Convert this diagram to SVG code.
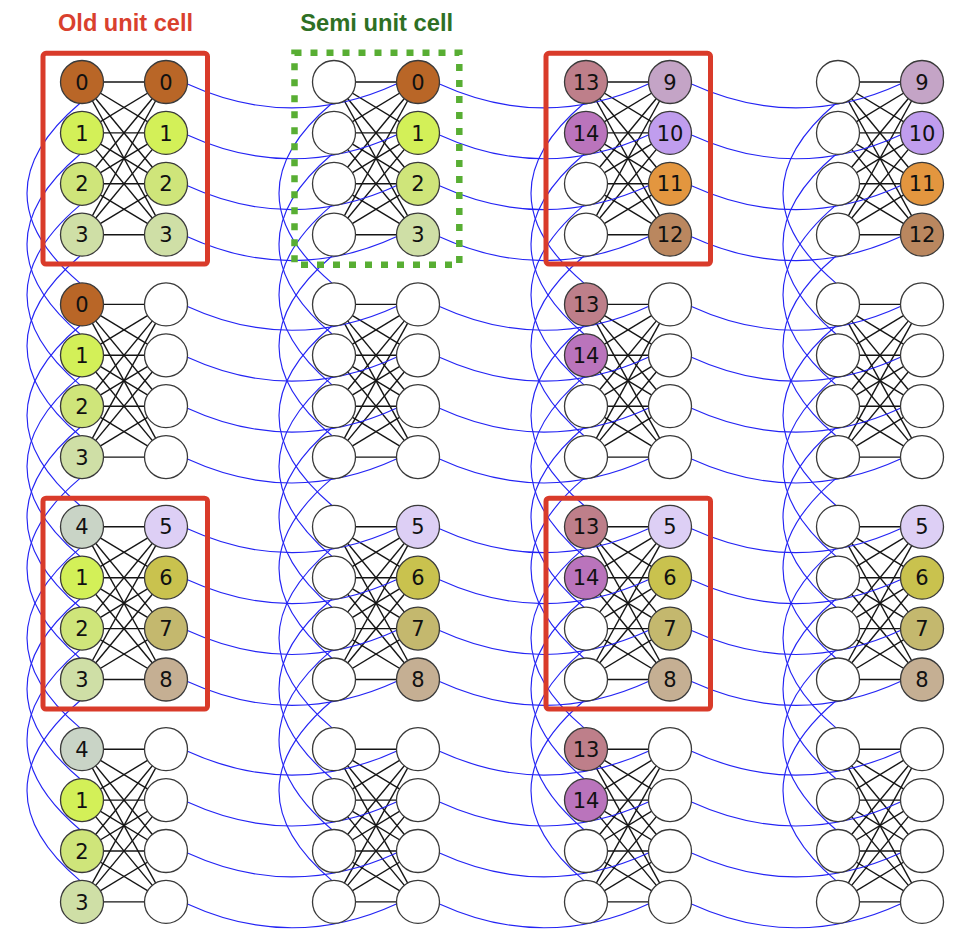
<svg xmlns="http://www.w3.org/2000/svg" xmlns:xlink="http://www.w3.org/1999/xlink" width="954" height="930" viewBox="0 0 954 930">
<style>
.k line{stroke:#151515;stroke-width:1.4}
.arc path{fill:none;stroke:#2424f4;stroke-width:1.15}
.nd circle{stroke:#3a3a3a;stroke-width:1.3}
.nd text{font-family:"DejaVu Sans",sans-serif;font-size:21px;text-anchor:middle;fill:#111;transform:translateY(0.4px)}
.w{fill:#fff}.f0{fill:#b96627}.f1{fill:#d3f058}.f2{fill:#cfe57a}.f3{fill:#cfdfa6}.f4{fill:#c9d4c6}.f5{fill:#ddcff5}.f6{fill:#c9c24e}.f7{fill:#c4b86e}.f8{fill:#c5af93}.f9{fill:#c4a4c6}.f10{fill:#c09dee}.f11{fill:#e3963f}.f12{fill:#ba875f}.f13{fill:#be7f8a}.f14{fill:#ba74bc}
.rb{fill:none;stroke:#d93b2a;stroke-width:5}
.gb{fill:none;stroke:#58ae33;stroke-width:6.5;stroke-dasharray:7 9}
.t{font-family:"Liberation Sans",Arial,sans-serif;font-weight:bold;font-size:23px;text-anchor:middle}
</style>
<defs>
<g id="k44" class="k">
<line x1="0" y1="0" x2="84" y2="0"/><line x1="0" y1="0" x2="84" y2="50.9"/><line x1="0" y1="0" x2="84" y2="101.8"/><line x1="0" y1="0" x2="84" y2="152.7"/>
<line x1="0" y1="50.9" x2="84" y2="0"/><line x1="0" y1="50.9" x2="84" y2="50.9"/><line x1="0" y1="50.9" x2="84" y2="101.8"/><line x1="0" y1="50.9" x2="84" y2="152.7"/>
<line x1="0" y1="101.8" x2="84" y2="0"/><line x1="0" y1="101.8" x2="84" y2="50.9"/><line x1="0" y1="101.8" x2="84" y2="101.8"/><line x1="0" y1="101.8" x2="84" y2="152.7"/>
<line x1="0" y1="152.7" x2="84" y2="0"/><line x1="0" y1="152.7" x2="84" y2="50.9"/><line x1="0" y1="152.7" x2="84" y2="101.8"/><line x1="0" y1="152.7" x2="84" y2="152.7"/>
</g>
<g id="hrow" class="arc">
<path d="M21.5 2Q126.5 50 231.5 1.5"/><path d="M21.5 52.9Q126.5 100.9 231.5 52.4"/><path d="M21.5 103.8Q126.5 151.8 231.5 103.3"/><path d="M21.5 154.7Q126.5 202.7 231.5 154.2"/>
<path d="M273.5 2Q378.5 50 483.5 1.5"/><path d="M273.5 52.9Q378.5 100.9 483.5 52.4"/><path d="M273.5 103.8Q378.5 151.8 483.5 103.3"/><path d="M273.5 154.7Q378.5 202.7 483.5 154.2"/>
<path d="M525.5 2Q630.5 50 735.5 1.5"/><path d="M525.5 52.9Q630.5 100.9 735.5 52.4"/><path d="M525.5 103.8Q630.5 151.8 735.5 103.3"/><path d="M525.5 154.7Q630.5 202.7 735.5 154.2"/>
</g>
<g id="vcol" class="arc">
<path d="M-2 21.3Q-108 111.2 -2 201.1"/><path d="M-2 72.2Q-108 162.1 -2 252"/><path d="M-2 123.1Q-108 213 -2 302.9"/><path d="M-2 174Q-108 263.9 -2 353.8"/>
<path d="M-2 243.7Q-108 333.6 -2 423.5"/><path d="M-2 294.6Q-108 384.5 -2 474.4"/><path d="M-2 345.5Q-108 435.4 -2 525.3"/><path d="M-2 396.4Q-108 486.3 -2 576.2"/>
<path d="M-2 466.1Q-108 556 -2 645.9"/><path d="M-2 517Q-108 606.9 -2 696.8"/><path d="M-2 567.9Q-108 657.8 -2 747.7"/><path d="M-2 618.8Q-108 708.7 -2 798.6"/>
</g>
</defs>
<rect width="954" height="930" fill="#fff"/>
<g id="titles">
<text class="t" x="125.5" y="31" fill="#d9402e" textLength="135" lengthAdjust="spacingAndGlyphs">Old unit cell</text>
<text class="t" x="376.7" y="31" fill="#2e7024" textLength="153" lengthAdjust="spacingAndGlyphs">Semi unit cell</text>
</g>
<g id="connectors">
<g id="cell-edges">
<use xlink:href="#k44" x="82" y="82"/><use xlink:href="#k44" x="334" y="82"/><use xlink:href="#k44" x="586" y="82"/><use xlink:href="#k44" x="838" y="82"/>
<use xlink:href="#k44" x="82" y="304.4"/><use xlink:href="#k44" x="334" y="304.4"/><use xlink:href="#k44" x="586" y="304.4"/><use xlink:href="#k44" x="838" y="304.4"/>
<use xlink:href="#k44" x="82" y="526.8"/><use xlink:href="#k44" x="334" y="526.8"/><use xlink:href="#k44" x="586" y="526.8"/><use xlink:href="#k44" x="838" y="526.8"/>
<use xlink:href="#k44" x="82" y="749.2"/><use xlink:href="#k44" x="334" y="749.2"/><use xlink:href="#k44" x="586" y="749.2"/><use xlink:href="#k44" x="838" y="749.2"/>
</g>
<g id="inter-cell">
<use xlink:href="#hrow" x="166" y="82"/><use xlink:href="#hrow" x="166" y="304.4"/><use xlink:href="#hrow" x="166" y="526.8"/><use xlink:href="#hrow" x="166" y="749.2"/>
<use xlink:href="#vcol" x="82" y="82"/><use xlink:href="#vcol" x="334" y="82"/><use xlink:href="#vcol" x="586" y="82"/><use xlink:href="#vcol" x="838" y="82"/>
</g>
</g>
<g id="nodes" class="nd">
<!-- row 0 -->
<g id="r0c0L0"><circle cx="82" cy="82" r="21.5" class="f0"/><text x="82" y="89.3">0</text></g>
<g id="r0c0L1"><circle cx="82" cy="132.9" r="21.5" class="f1"/><text x="82" y="140.2">1</text></g>
<g id="r0c0L2"><circle cx="82" cy="183.8" r="21.5" class="f2"/><text x="82" y="191.1">2</text></g>
<g id="r0c0L3"><circle cx="82" cy="234.7" r="21.5" class="f3"/><text x="82" y="242">3</text></g>
<g id="r0c0R0"><circle cx="166" cy="82" r="21.5" class="f0"/><text x="166" y="89.3">0</text></g>
<g id="r0c0R1"><circle cx="166" cy="132.9" r="21.5" class="f1"/><text x="166" y="140.2">1</text></g>
<g id="r0c0R2"><circle cx="166" cy="183.8" r="21.5" class="f2"/><text x="166" y="191.1">2</text></g>
<g id="r0c0R3"><circle cx="166" cy="234.7" r="21.5" class="f3"/><text x="166" y="242">3</text></g>
<g id="r0c1L0"><circle cx="334" cy="82" r="21.5" class="w"/></g>
<g id="r0c1L1"><circle cx="334" cy="132.9" r="21.5" class="w"/></g>
<g id="r0c1L2"><circle cx="334" cy="183.8" r="21.5" class="w"/></g>
<g id="r0c1L3"><circle cx="334" cy="234.7" r="21.5" class="w"/></g>
<g id="r0c1R0"><circle cx="418" cy="82" r="21.5" class="f0"/><text x="418" y="89.3">0</text></g>
<g id="r0c1R1"><circle cx="418" cy="132.9" r="21.5" class="f1"/><text x="418" y="140.2">1</text></g>
<g id="r0c1R2"><circle cx="418" cy="183.8" r="21.5" class="f2"/><text x="418" y="191.1">2</text></g>
<g id="r0c1R3"><circle cx="418" cy="234.7" r="21.5" class="f3"/><text x="418" y="242">3</text></g>
<g id="r0c2L0"><circle cx="586" cy="82" r="21.5" class="f13"/><text x="586" y="89.3">13</text></g>
<g id="r0c2L1"><circle cx="586" cy="132.9" r="21.5" class="f14"/><text x="586" y="140.2">14</text></g>
<g id="r0c2L2"><circle cx="586" cy="183.8" r="21.5" class="w"/></g>
<g id="r0c2L3"><circle cx="586" cy="234.7" r="21.5" class="w"/></g>
<g id="r0c2R0"><circle cx="670" cy="82" r="21.5" class="f9"/><text x="670" y="89.3">9</text></g>
<g id="r0c2R1"><circle cx="670" cy="132.9" r="21.5" class="f10"/><text x="670" y="140.2">10</text></g>
<g id="r0c2R2"><circle cx="670" cy="183.8" r="21.5" class="f11"/><text x="670" y="191.1">11</text></g>
<g id="r0c2R3"><circle cx="670" cy="234.7" r="21.5" class="f12"/><text x="670" y="242">12</text></g>
<g id="r0c3L0"><circle cx="838" cy="82" r="21.5" class="w"/></g>
<g id="r0c3L1"><circle cx="838" cy="132.9" r="21.5" class="w"/></g>
<g id="r0c3L2"><circle cx="838" cy="183.8" r="21.5" class="w"/></g>
<g id="r0c3L3"><circle cx="838" cy="234.7" r="21.5" class="w"/></g>
<g id="r0c3R0"><circle cx="922" cy="82" r="21.5" class="f9"/><text x="922" y="89.3">9</text></g>
<g id="r0c3R1"><circle cx="922" cy="132.9" r="21.5" class="f10"/><text x="922" y="140.2">10</text></g>
<g id="r0c3R2"><circle cx="922" cy="183.8" r="21.5" class="f11"/><text x="922" y="191.1">11</text></g>
<g id="r0c3R3"><circle cx="922" cy="234.7" r="21.5" class="f12"/><text x="922" y="242">12</text></g>
<!-- row 1 -->
<g id="r1c0L0"><circle cx="82" cy="304.4" r="21.5" class="f0"/><text x="82" y="311.7">0</text></g>
<g id="r1c0L1"><circle cx="82" cy="355.3" r="21.5" class="f1"/><text x="82" y="362.6">1</text></g>
<g id="r1c0L2"><circle cx="82" cy="406.2" r="21.5" class="f2"/><text x="82" y="413.5">2</text></g>
<g id="r1c0L3"><circle cx="82" cy="457.1" r="21.5" class="f3"/><text x="82" y="464.4">3</text></g>
<g id="r1c0R0"><circle cx="166" cy="304.4" r="21.5" class="w"/></g>
<g id="r1c0R1"><circle cx="166" cy="355.3" r="21.5" class="w"/></g>
<g id="r1c0R2"><circle cx="166" cy="406.2" r="21.5" class="w"/></g>
<g id="r1c0R3"><circle cx="166" cy="457.1" r="21.5" class="w"/></g>
<g id="r1c1L0"><circle cx="334" cy="304.4" r="21.5" class="w"/></g>
<g id="r1c1L1"><circle cx="334" cy="355.3" r="21.5" class="w"/></g>
<g id="r1c1L2"><circle cx="334" cy="406.2" r="21.5" class="w"/></g>
<g id="r1c1L3"><circle cx="334" cy="457.1" r="21.5" class="w"/></g>
<g id="r1c1R0"><circle cx="418" cy="304.4" r="21.5" class="w"/></g>
<g id="r1c1R1"><circle cx="418" cy="355.3" r="21.5" class="w"/></g>
<g id="r1c1R2"><circle cx="418" cy="406.2" r="21.5" class="w"/></g>
<g id="r1c1R3"><circle cx="418" cy="457.1" r="21.5" class="w"/></g>
<g id="r1c2L0"><circle cx="586" cy="304.4" r="21.5" class="f13"/><text x="586" y="311.7">13</text></g>
<g id="r1c2L1"><circle cx="586" cy="355.3" r="21.5" class="f14"/><text x="586" y="362.6">14</text></g>
<g id="r1c2L2"><circle cx="586" cy="406.2" r="21.5" class="w"/></g>
<g id="r1c2L3"><circle cx="586" cy="457.1" r="21.5" class="w"/></g>
<g id="r1c2R0"><circle cx="670" cy="304.4" r="21.5" class="w"/></g>
<g id="r1c2R1"><circle cx="670" cy="355.3" r="21.5" class="w"/></g>
<g id="r1c2R2"><circle cx="670" cy="406.2" r="21.5" class="w"/></g>
<g id="r1c2R3"><circle cx="670" cy="457.1" r="21.5" class="w"/></g>
<g id="r1c3L0"><circle cx="838" cy="304.4" r="21.5" class="w"/></g>
<g id="r1c3L1"><circle cx="838" cy="355.3" r="21.5" class="w"/></g>
<g id="r1c3L2"><circle cx="838" cy="406.2" r="21.5" class="w"/></g>
<g id="r1c3L3"><circle cx="838" cy="457.1" r="21.5" class="w"/></g>
<g id="r1c3R0"><circle cx="922" cy="304.4" r="21.5" class="w"/></g>
<g id="r1c3R1"><circle cx="922" cy="355.3" r="21.5" class="w"/></g>
<g id="r1c3R2"><circle cx="922" cy="406.2" r="21.5" class="w"/></g>
<g id="r1c3R3"><circle cx="922" cy="457.1" r="21.5" class="w"/></g>
<!-- row 2 -->
<g id="r2c0L0"><circle cx="82" cy="526.8" r="21.5" class="f4"/><text x="82" y="534.1">4</text></g>
<g id="r2c0L1"><circle cx="82" cy="577.7" r="21.5" class="f1"/><text x="82" y="585">1</text></g>
<g id="r2c0L2"><circle cx="82" cy="628.6" r="21.5" class="f2"/><text x="82" y="635.9">2</text></g>
<g id="r2c0L3"><circle cx="82" cy="679.5" r="21.5" class="f3"/><text x="82" y="686.8">3</text></g>
<g id="r2c0R0"><circle cx="166" cy="526.8" r="21.5" class="f5"/><text x="166" y="534.1">5</text></g>
<g id="r2c0R1"><circle cx="166" cy="577.7" r="21.5" class="f6"/><text x="166" y="585">6</text></g>
<g id="r2c0R2"><circle cx="166" cy="628.6" r="21.5" class="f7"/><text x="166" y="635.9">7</text></g>
<g id="r2c0R3"><circle cx="166" cy="679.5" r="21.5" class="f8"/><text x="166" y="686.8">8</text></g>
<g id="r2c1L0"><circle cx="334" cy="526.8" r="21.5" class="w"/></g>
<g id="r2c1L1"><circle cx="334" cy="577.7" r="21.5" class="w"/></g>
<g id="r2c1L2"><circle cx="334" cy="628.6" r="21.5" class="w"/></g>
<g id="r2c1L3"><circle cx="334" cy="679.5" r="21.5" class="w"/></g>
<g id="r2c1R0"><circle cx="418" cy="526.8" r="21.5" class="f5"/><text x="418" y="534.1">5</text></g>
<g id="r2c1R1"><circle cx="418" cy="577.7" r="21.5" class="f6"/><text x="418" y="585">6</text></g>
<g id="r2c1R2"><circle cx="418" cy="628.6" r="21.5" class="f7"/><text x="418" y="635.9">7</text></g>
<g id="r2c1R3"><circle cx="418" cy="679.5" r="21.5" class="f8"/><text x="418" y="686.8">8</text></g>
<g id="r2c2L0"><circle cx="586" cy="526.8" r="21.5" class="f13"/><text x="586" y="534.1">13</text></g>
<g id="r2c2L1"><circle cx="586" cy="577.7" r="21.5" class="f14"/><text x="586" y="585">14</text></g>
<g id="r2c2L2"><circle cx="586" cy="628.6" r="21.5" class="w"/></g>
<g id="r2c2L3"><circle cx="586" cy="679.5" r="21.5" class="w"/></g>
<g id="r2c2R0"><circle cx="670" cy="526.8" r="21.5" class="f5"/><text x="670" y="534.1">5</text></g>
<g id="r2c2R1"><circle cx="670" cy="577.7" r="21.5" class="f6"/><text x="670" y="585">6</text></g>
<g id="r2c2R2"><circle cx="670" cy="628.6" r="21.5" class="f7"/><text x="670" y="635.9">7</text></g>
<g id="r2c2R3"><circle cx="670" cy="679.5" r="21.5" class="f8"/><text x="670" y="686.8">8</text></g>
<g id="r2c3L0"><circle cx="838" cy="526.8" r="21.5" class="w"/></g>
<g id="r2c3L1"><circle cx="838" cy="577.7" r="21.5" class="w"/></g>
<g id="r2c3L2"><circle cx="838" cy="628.6" r="21.5" class="w"/></g>
<g id="r2c3L3"><circle cx="838" cy="679.5" r="21.5" class="w"/></g>
<g id="r2c3R0"><circle cx="922" cy="526.8" r="21.5" class="f5"/><text x="922" y="534.1">5</text></g>
<g id="r2c3R1"><circle cx="922" cy="577.7" r="21.5" class="f6"/><text x="922" y="585">6</text></g>
<g id="r2c3R2"><circle cx="922" cy="628.6" r="21.5" class="f7"/><text x="922" y="635.9">7</text></g>
<g id="r2c3R3"><circle cx="922" cy="679.5" r="21.5" class="f8"/><text x="922" y="686.8">8</text></g>
<!-- row 3 -->
<g id="r3c0L0"><circle cx="82" cy="749.2" r="21.5" class="f4"/><text x="82" y="756.5">4</text></g>
<g id="r3c0L1"><circle cx="82" cy="800.1" r="21.5" class="f1"/><text x="82" y="807.4">1</text></g>
<g id="r3c0L2"><circle cx="82" cy="851" r="21.5" class="f2"/><text x="82" y="858.3">2</text></g>
<g id="r3c0L3"><circle cx="82" cy="901.9" r="21.5" class="f3"/><text x="82" y="909.2">3</text></g>
<g id="r3c0R0"><circle cx="166" cy="749.2" r="21.5" class="w"/></g>
<g id="r3c0R1"><circle cx="166" cy="800.1" r="21.5" class="w"/></g>
<g id="r3c0R2"><circle cx="166" cy="851" r="21.5" class="w"/></g>
<g id="r3c0R3"><circle cx="166" cy="901.9" r="21.5" class="w"/></g>
<g id="r3c1L0"><circle cx="334" cy="749.2" r="21.5" class="w"/></g>
<g id="r3c1L1"><circle cx="334" cy="800.1" r="21.5" class="w"/></g>
<g id="r3c1L2"><circle cx="334" cy="851" r="21.5" class="w"/></g>
<g id="r3c1L3"><circle cx="334" cy="901.9" r="21.5" class="w"/></g>
<g id="r3c1R0"><circle cx="418" cy="749.2" r="21.5" class="w"/></g>
<g id="r3c1R1"><circle cx="418" cy="800.1" r="21.5" class="w"/></g>
<g id="r3c1R2"><circle cx="418" cy="851" r="21.5" class="w"/></g>
<g id="r3c1R3"><circle cx="418" cy="901.9" r="21.5" class="w"/></g>
<g id="r3c2L0"><circle cx="586" cy="749.2" r="21.5" class="f13"/><text x="586" y="756.5">13</text></g>
<g id="r3c2L1"><circle cx="586" cy="800.1" r="21.5" class="f14"/><text x="586" y="807.4">14</text></g>
<g id="r3c2L2"><circle cx="586" cy="851" r="21.5" class="w"/></g>
<g id="r3c2L3"><circle cx="586" cy="901.9" r="21.5" class="w"/></g>
<g id="r3c2R0"><circle cx="670" cy="749.2" r="21.5" class="w"/></g>
<g id="r3c2R1"><circle cx="670" cy="800.1" r="21.5" class="w"/></g>
<g id="r3c2R2"><circle cx="670" cy="851" r="21.5" class="w"/></g>
<g id="r3c2R3"><circle cx="670" cy="901.9" r="21.5" class="w"/></g>
<g id="r3c3L0"><circle cx="838" cy="749.2" r="21.5" class="w"/></g>
<g id="r3c3L1"><circle cx="838" cy="800.1" r="21.5" class="w"/></g>
<g id="r3c3L2"><circle cx="838" cy="851" r="21.5" class="w"/></g>
<g id="r3c3L3"><circle cx="838" cy="901.9" r="21.5" class="w"/></g>
<g id="r3c3R0"><circle cx="922" cy="749.2" r="21.5" class="w"/></g>
<g id="r3c3R1"><circle cx="922" cy="800.1" r="21.5" class="w"/></g>
<g id="r3c3R2"><circle cx="922" cy="851" r="21.5" class="w"/></g>
<g id="r3c3R3"><circle cx="922" cy="901.9" r="21.5" class="w"/></g>
</g>
<g id="boxes">
<rect class="rb" x="43" y="53.3" width="164.5" height="210.7" rx="3"/>
<rect class="rb" x="546" y="53.3" width="164.5" height="210.7" rx="3"/>
<rect class="rb" x="43" y="498.2" width="164.5" height="210.9" rx="3"/>
<rect class="rb" x="546" y="498.2" width="164.5" height="210.9" rx="3"/>
<rect class="gb" x="294.5" y="52.8" width="164.8" height="211.9"/>
</g>
</svg>
